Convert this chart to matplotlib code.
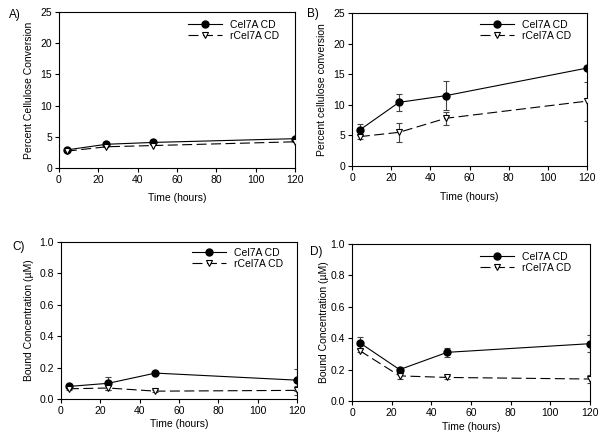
import numpy as np
import matplotlib
matplotlib.use('Agg')
import matplotlib.pyplot as plt

plt.rcParams['font.family'] = ['Liberation Sans', 'DejaVu Sans']

# data
hours = [4, 24, 48, 120]

# A) percent conversion
a_cel7a = [2.9, 3.8, 4.1, 4.7]
a_rcel7a = [2.7, 3.4, 3.6, 4.2]

# B) percent conversion
b_cel7a = [5.9, 10.4, 11.5, 16.0]
b_cel7a_err = [0.9, 1.35, 2.4, 0.0]
b_rcel7a = [4.8, 5.5, 7.8, 10.6]
b_rcel7a_err = [0.35, 1.5, 1.1, 3.2]

# C) bound concentration (uM)
c_cel7a = [0.08, 0.10, 0.165, 0.12]
c_cel7a_err = [0.01, 0.04, 0.005, 0.07]
c_rcel7a = [0.065, 0.07, 0.05, 0.055]
c_rcel7a_err = [0.01, 0.01, 0.005, 0.03]

# D) bound concentration (uM)
d_cel7a = [0.37, 0.20, 0.31, 0.365]
d_cel7a_err = [0.04, 0.01, 0.03, 0.055]
d_rcel7a = [0.32, 0.16, 0.15, 0.14]
d_rcel7a_err = [0.01, 0.02, 0.01, 0.025]

labels = ['Cel7A CD', 'rCel7A CD']

W, H = 600, 441
FS = 7.5
fig = plt.figure(figsize=(6, 4.41), dpi=100)


def px_axes(l, r, t, b):
    return fig.add_axes([l / W, 1 - b / H, (r - l) / W, (b - t) / H])


def panel(box, y1, e1, y2, e2, ylim, yticks, yfmt, ylabel, ylab_x, xlab_y, leg_xy, letter, letter_xy):
    ax = px_axes(*box)
    ecol = '#444444'
    if e1 is not None:
        ax.errorbar(hours, y1, yerr=e1, fmt='none', ecolor=ecol, elinewidth=0.8,
                    capsize=2.5, capthick=0.8, zorder=2)
        ax.errorbar(hours, y2, yerr=e2, fmt='none', ecolor=ecol, elinewidth=0.8,
                    capsize=2.5, capthick=0.8, zorder=2)
    ax.plot(hours, y1, '-', color='black', lw=0.8, marker='o', ms=5,
            mfc='black', mec='black', label=labels[0], zorder=3)
    ax.plot(hours, y2, color='black', lw=0.8, dashes=(9, 4), marker='v', ms=5,
            mfc='white', mec='black', mew=0.8, label=labels[1], zorder=3)
    ax.set_xlim(0, 120)
    ax.set_xticks(np.arange(0, 121, 20))
    ax.set_ylim(*ylim)
    ax.set_yticks(yticks)
    ax.set_yticklabels([yfmt.format(v) for v in yticks])
    ax.tick_params(direction='out', length=3, width=0.8, labelsize=FS, pad=2,
                   top=False, right=False)
    for s in ax.spines.values():
        s.set_linewidth(0.8)
    ax.set_xlabel('Time (hours)', fontsize=FS)
    ax.xaxis.set_label_coords(0.5, xlab_y)
    ax.set_ylabel(ylabel, fontsize=FS)
    ax.yaxis.set_label_coords(ylab_x, 0.5)
    l, r, t, b = box
    ax.legend(loc='upper left', bbox_to_anchor=((leg_xy[0] - l) / (r - l), (b - leg_xy[1]) / (b - t)),
              frameon=False, fontsize=FS, handlelength=3.3, handletextpad=0.75,
              labelspacing=0.1, borderpad=0, borderaxespad=0)
    fig.text(letter_xy[0] / W, 1 - letter_xy[1] / H, letter, fontsize=8.5, va='center', ha='left')
    return ax


panel((59, 295, 12, 168), a_cel7a, None, a_rcel7a, None, (0, 25), [0, 5, 10, 15, 20, 25], '{:g}',
      'Percent Cellulose Conversion', -0.106, -0.16, (188, 20), 'A)', (9, 15))
panel((352, 587, 13, 166), b_cel7a, b_cel7a_err, b_rcel7a, b_rcel7a_err, (0, 25), [0, 5, 10, 15, 20, 25], '{:g}',
      'Percent cellulose conversion', -0.106, -0.17, (480, 20), 'B)', (307, 14))
panel((61, 297, 242, 399), c_cel7a, c_cel7a_err, c_rcel7a, c_rcel7a_err, (0, 1.0), [0, 0.2, 0.4, 0.6, 0.8, 1.0], '{:.1f}',
      'Bound Concentration (\u00b5M)', -0.114, -0.127, (192, 248), 'C)', (12, 247))
panel((352, 590, 244, 401), d_cel7a, d_cel7a_err, d_rcel7a, d_rcel7a_err, (0, 1.0), [0, 0.2, 0.4, 0.6, 0.8, 1.0], '{:.1f}',
      'Bound Concentration (\u00b5M)', -0.097, -0.134, (480, 252), 'D)', (310, 252))

fig.savefig('out.png', dpi=100)
